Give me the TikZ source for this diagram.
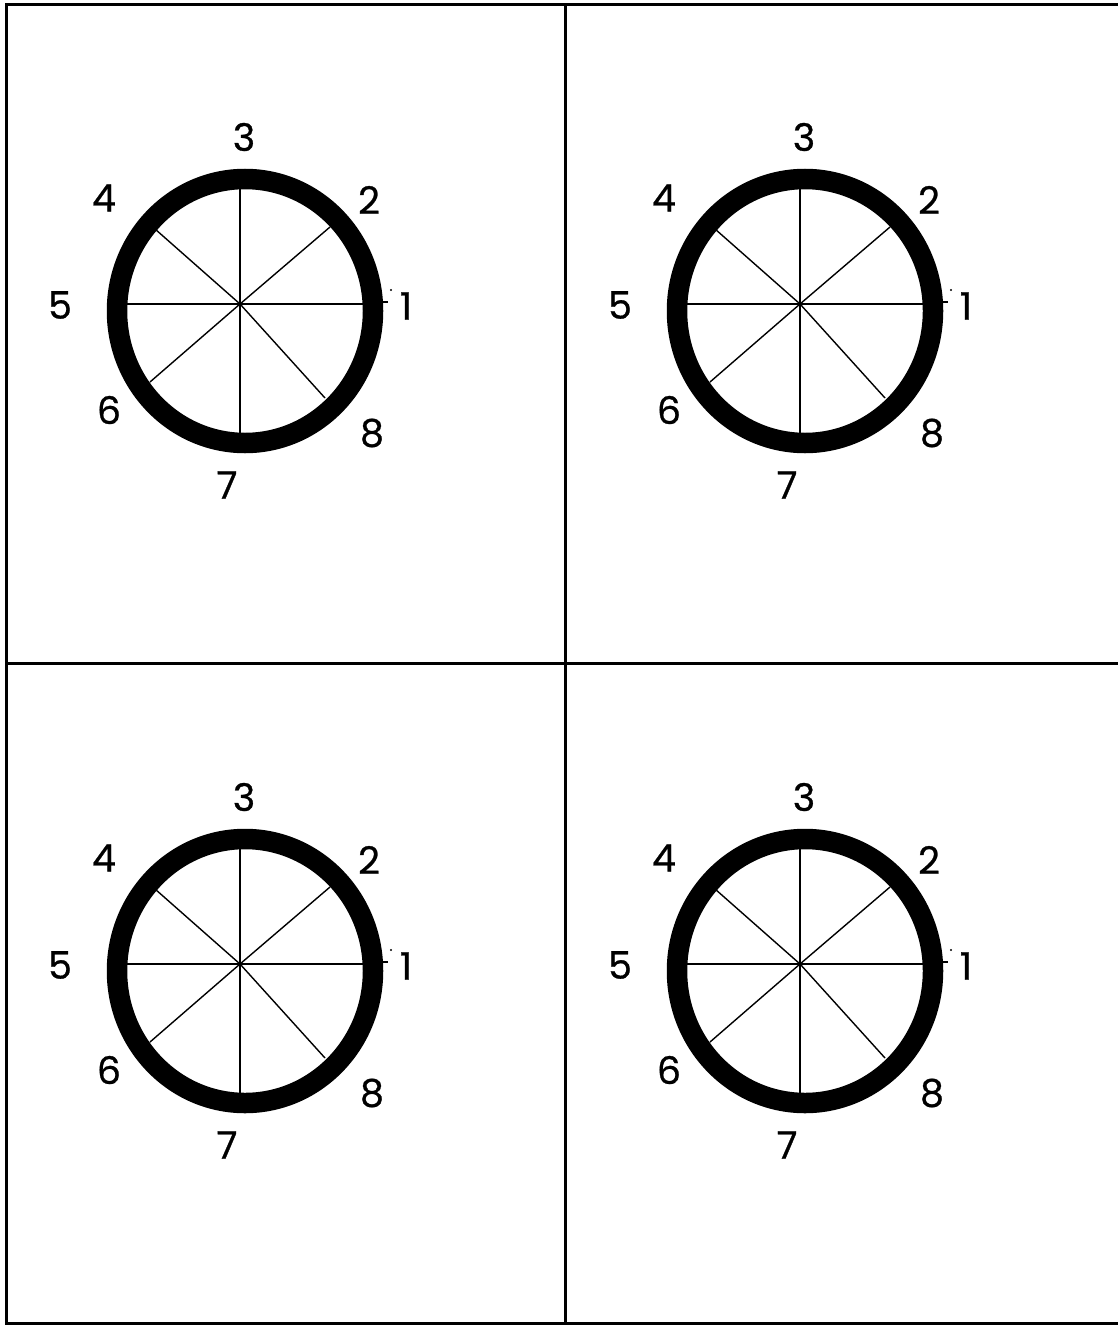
\documentclass[tikz,border=0pt]{standalone}
\usepackage{fontspec}
\setmainfont{Poppins}
\newfontfamily\lblfont[FakeBold=0.7]{Poppins}
\begin{document}
\begin{tikzpicture}[x=1pt,y=-1pt,
  gridline/.style={line width=3pt},
  ring/.style={line width=20.5pt},
  spoke/.style={line width=1.4pt},
  lbl/.style={font=\lblfont\fontsize{38}{42}\selectfont, inner sep=0pt, anchor=center}]
\useasboundingbox (0,0) rectangle (1117,1327);
% grid
\coordinate (tl) at (6,5);
\coordinate (tr) at (1118,5);
\coordinate (bl) at (6,1323);
\coordinate (br) at (1118,1323);
\coordinate (mt) at (565,5);
\coordinate (mb) at (565,1323);
\coordinate (ml) at (6,663);
\coordinate (mr) at (1118,663);
\draw[gridline] (tr) -- (tl) -- (bl) -- (br);
\draw[gridline] (mt) -- (mb);
\draw[gridline] (ml) -- (mr);
\foreach \dx/\dy/\n in {0/0/a, 560/0/b, 0/660/c, 560/660/d}{
  \begin{scope}[shift={(\dx,\dy)}]
    \coordinate (\n-o) at (240,304);
    \draw[ring] (245,311) ellipse [x radius=128, y radius=132];
    \coordinate (\n-p1) at (363,304);
    \coordinate (\n-p5) at (127,304);
    \coordinate (\n-p3) at (240,188);
    \coordinate (\n-p7) at (240,433);
    \coordinate (\n-p2) at (330,227);
    \coordinate (\n-p6) at (150,382);
    \coordinate (\n-p4) at (155,229);
    \coordinate (\n-p8) at (325,398);
    \foreach \k in {1,...,8}{\draw[spoke] (\n-o) -- (\n-p\k);}
    \coordinate (\n-t1) at (381,302);
    \coordinate (\n-t2) at (388,302);
    \draw[line width=1.5pt] (\n-t1) -- (\n-t2);
    \fill (391,290) circle [radius=1.2];
    \node[lbl] (\n-l1) at (406,306) {1};
    \node[lbl] (\n-l2) at (369,200) {2};
    \node[lbl] (\n-l3) at (244,137) {3};
    \node[lbl] (\n-l4) at (104,198) {4};
    \node[lbl] (\n-l5) at (60,305) {5};
    \node[lbl] (\n-l6) at (109,410) {6};
    \node[lbl] (\n-l7) at (227,485) {7};
    \node[lbl] (\n-l8) at (372,433) {8};
  \end{scope}
}
\end{tikzpicture}
\end{document}
